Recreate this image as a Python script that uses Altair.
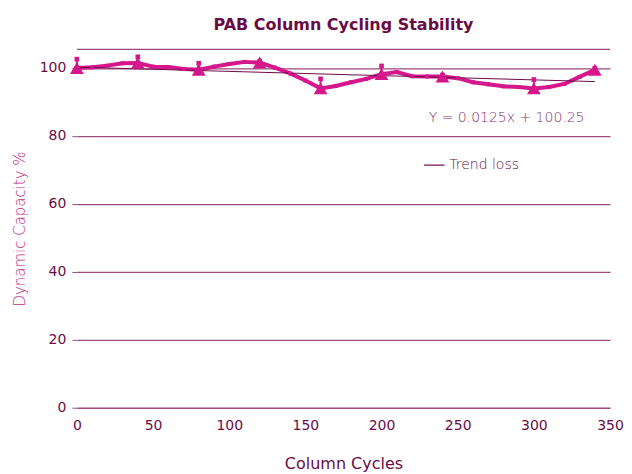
import altair as alt
import pandas as pd

cycles = [0, 10, 20, 30, 40, 50, 60, 70, 80, 90, 100, 110, 120, 130, 140, 150, 160, 170,
          180, 190, 200, 210, 220, 230, 240, 250, 260, 270, 280, 290, 300, 310, 320, 330, 340]
capacity = [100.0, 100.2, 100.7, 101.4, 101.5, 100.4, 100.3, 99.7, 99.5, 100.4, 101.2, 101.8, 101.6,
            100.1, 98.4, 96.3, 94.0, 94.7, 95.8, 96.8, 98.2, 98.8, 97.6, 97.5, 97.5, 97.0,
            95.8, 95.2, 94.6, 94.4, 94.0, 94.4, 95.3, 97.4, 99.5]
marker_cycles = [0, 40, 80, 120, 160, 200, 240, 300, 340]
marker_capacity = [100.0, 101.5, 99.5, 101.6, 94.0, 98.2, 97.5, 94.0, 99.5]
marker_error = [2.6, 1.8, 1.9, 0.4, 2.8, 2.4, 0.4, 2.6, 0.4]
trend_cycles = [0, 340]
trend_capacity = [100.25, 96.0]
y_ticks = [0, 20, 40, 60, 80, 100]
x_ticks = [0, 50, 100, 150, 200, 250, 300, 350]
top_line = [105.5]

PINK = "#d6168b"
DARK = "#6b0b45"
GRID = "#9a4a7c"
FONT = "DejaVu Sans"

line_df = pd.DataFrame({"cycles": cycles, "capacity": capacity})
mk_df = pd.DataFrame({"cycles": marker_cycles, "capacity": marker_capacity,
                      "upper": [c + e for c, e in zip(marker_capacity, marker_error)]})
trend_df = pd.DataFrame({"cycles": trend_cycles, "capacity": trend_capacity,
                         "series": ["Trend loss"] * 2})
top_df = pd.DataFrame({"capacity": top_line})

xs = alt.Scale(domain=[0, 350], nice=False)
ys = alt.Scale(domain=[0, 105.5], nice=False)

xax = alt.Axis(values=x_ticks, title="Column Cycles", grid=False, ticks=False, domain=False,
               labelColor=DARK, labelFontSize=14, labelPadding=11, titleColor=DARK, labelFont=FONT,
               titleFont=FONT, titleFontSize=16, titleFontWeight="normal", titlePadding=23,
               labelFlush=False)
yax = alt.Axis(values=y_ticks, title="Dynamic Capacity %", grid=True, gridColor=GRID,
               gridOpacity=1, gridWidth=1.3, ticks=True, tickSize=5, tickColor=GRID, domain=False,
               labelColor=DARK, labelFontSize=14, labelPadding=6, titleColor="#c02a84",
               labelFont=FONT, titleFont=FONT,
               titleFontSize=15, titleFontWeight=200, titlePadding=12)


def X(f="cycles"):
    return alt.X(f + ":Q", scale=xs, axis=xax)


def Y(f="capacity"):
    return alt.Y(f + ":Q", scale=ys, axis=yax)


top = alt.Chart(top_df).mark_rule(color=GRID, strokeWidth=1.3).encode(y=Y())

trend = alt.Chart(trend_df).mark_line(color=DARK, strokeWidth=1).encode(
    x=X(), y=Y(),
    color=alt.Color("series:N", scale=alt.Scale(range=[DARK]),
                    legend=alt.Legend(title=None, orient="none", legendX=347, legendY=105,
                                      symbolType="stroke", symbolStrokeWidth=1.2, symbolSize=420,
                                      labelColor=DARK, labelFontSize=14, labelFont=FONT,
                                      labelFontWeight=200)))

line = alt.Chart(line_df).mark_line(color=PINK, strokeWidth=4).encode(x=X(), y=Y())

pts = alt.Chart(line_df).mark_point(shape="square", filled=True, size=16, color=PINK, opacity=1).encode(
    x=X(), y=Y())

err = alt.Chart(mk_df).mark_rule(color=PINK, strokeWidth=2).encode(x=X(), y=Y(), y2="upper:Q")
cap = alt.Chart(mk_df).mark_point(shape="square", filled=True, size=22, color=PINK, opacity=1).encode(
    x=X(), y=Y("upper"))

tri = alt.Chart(mk_df).mark_point(shape="triangle-up", filled=True, size=190, color=PINK, opacity=1).encode(
    x=X(), y=Y())

eq = alt.Chart(pd.DataFrame({"cycles": [231], "capacity": [85.3], "t": ["Y = 0.0125x + 100.25"]})).mark_text(
    align="left", baseline="middle", color="#8a2f6c", fontSize=14, font=FONT, fontWeight=200).encode(
    x=X(), y=Y(), text="t:N")

chart = alt.layer(top, line, trend, pts, err, cap, tri, eq).properties(
    width=534, height=359,
    padding={"left": 4, "top": 8, "right": 0, "bottom": 0},
    title=alt.Title("PAB Column Cycling Stability", color=DARK, fontSize=16, fontWeight="bold",
                    font=FONT, offset=16),
).configure_view(stroke=None)

chart.save("out.html", embed_options={"renderer": "svg", "actions": False})
